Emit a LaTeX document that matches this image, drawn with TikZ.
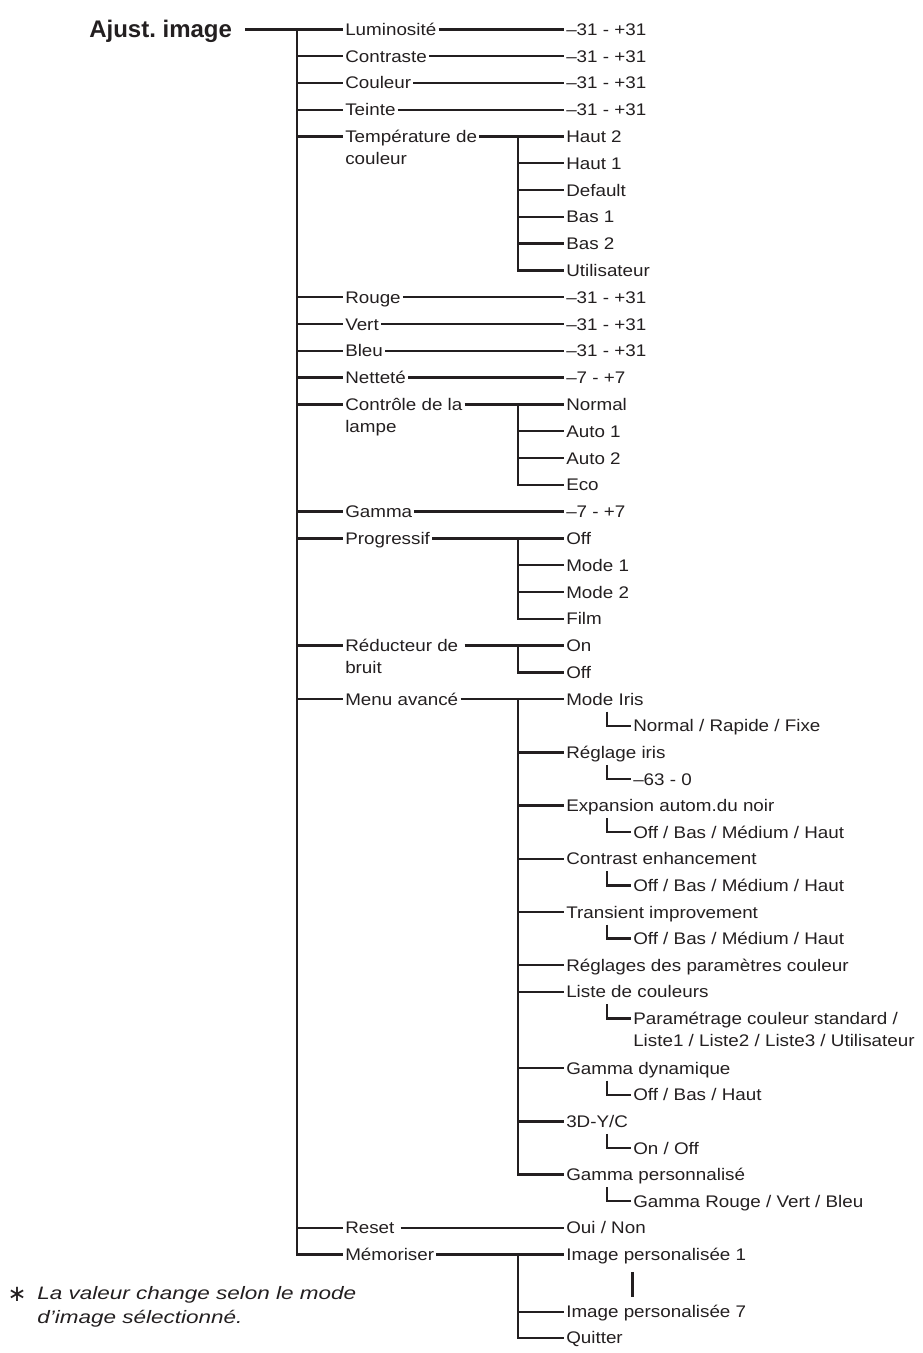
\documentclass[tikz,border=0pt]{standalone}
\usepackage{fontspec}
\setmainfont{Liberation Sans}[FakeStretch=1.12]
\newfontfamily\titlefont{Liberation Sans}
\newfontfamily\notefont{Liberation Sans}[FakeStretch=1.25]
\newfontfamily\starfont{DejaVu Sans}
\usetikzlibrary{calc}
\definecolor{ink}{HTML}{231F20}
\frenchspacing
\begin{document}
\begin{tikzpicture}[x=0.75pt,y=-0.75pt,
  lbl/.style={anchor=west, inner xsep=1.5pt, inner ysep=0pt, text height=9pt, text depth=0pt,
    font=\fontsize{12.6pt}{15pt}\selectfont, text=ink},
  conn/.style={draw=ink, line width=1.8pt},
  barline/.style={draw=ink, line width=2.4pt},
  note/.style={anchor=base west, inner sep=0pt, font=\notefont\itshape\fontsize{13.5pt}{16pt}\selectfont, text=ink}]
\useasboundingbox (0,0) rectangle (923,1353);
\coordinate (T) at (297,0);
\coordinate (S) at (518,0);
% title
\node[anchor=west, inner sep=0pt, text height=12.9pt, text depth=0pt, text=ink,
  font=\titlefont\bfseries\fontsize{18pt}{20pt}\selectfont] (title) at (89,29.3) {Ajust. image};
% level 1
\node[lbl] (lum) at (343,29.3) {Luminosité};
\node[lbl] (con) at (343,56.1) {Contraste};
\node[lbl] (cou) at (343,82.9) {Couleur};
\node[lbl] (tei) at (343,109.7) {Teinte};
\node[lbl] (tmp) at (343,136.5) {Température de};
\node[lbl] (tmpb) at (343,158.2) {couleur};
\node[lbl] (rou) at (343,297.2) {Rouge};
\node[lbl] (ver) at (343,324) {Vert};
\node[lbl] (ble) at (343,350.8) {Bleu};
\node[lbl] (net) at (343,377.6) {Netteté};
\node[lbl] (ctl) at (343,404.4) {Contrôle de la};
\node[lbl] (ctlb) at (343,426.1) {lampe};
\node[lbl] (gam) at (343,511.6) {Gamma};
\node[lbl] (pro) at (343,538.4) {Progressif};
\node[lbl] (red) at (343,645.6) {Réducteur de};
\node[lbl] (redb) at (343,667.3) {bruit};
\node[lbl] (men) at (343,699.2) {Menu avancé};
\node[lbl] (res) at (343,1227.8) {Reset};
\node[lbl] (mem) at (343,1254.4) {Mémoriser};
% level 2
\node[lbl] (lumv) at (564,29.3) {–31 - +31};
\node[lbl] (conv) at (564,56.1) {–31 - +31};
\node[lbl] (couv) at (564,82.9) {–31 - +31};
\node[lbl] (teiv) at (564,109.7) {–31 - +31};
\node[lbl] (h2) at (564,136.5) {Haut 2};
\node[lbl] (h1) at (564,163.2) {Haut 1};
\node[lbl] (def) at (564,190) {Default};
\node[lbl] (b1) at (564,216.8) {Bas 1};
\node[lbl] (b2) at (564,243.6) {Bas 2};
\node[lbl] (uti) at (564,270.4) {Utilisateur};
\node[lbl] (rouv) at (564,297.2) {–31 - +31};
\node[lbl] (verv) at (564,324) {–31 - +31};
\node[lbl] (blev) at (564,350.8) {–31 - +31};
\node[lbl] (netv) at (564,377.6) {–7 - +7};
\node[lbl] (nor) at (564,404.4) {Normal};
\node[lbl] (a1) at (564,431.2) {Auto 1};
\node[lbl] (a2) at (564,458) {Auto 2};
\node[lbl] (eco) at (564,484.8) {Eco};
\node[lbl] (gamv) at (564,511.6) {–7 - +7};
\node[lbl] (poff) at (564,538.4) {Off};
\node[lbl] (m1) at (564,565.2) {Mode 1};
\node[lbl] (m2) at (564,592) {Mode 2};
\node[lbl] (film) at (564,618.8) {Film};
\node[lbl] (on) at (564,645.6) {On};
\node[lbl] (roff) at (564,672.4) {Off};
\node[lbl] (iris) at (564,699.2) {Mode Iris};
\node[lbl] (rir) at (564,752.4) {Réglage iris};
\node[lbl] (exp) at (564,805.6) {Expansion autom.du noir};
\node[lbl] (cen) at (564,858.8) {Contrast enhancement};
\node[lbl] (tra) at (564,912) {Transient improvement};
\node[lbl] (rpc) at (564,965.2) {Réglages des paramètres couleur};
\node[lbl] (lis) at (564,991.8) {Liste de couleurs};
\node[lbl] (gdy) at (564,1068.2) {Gamma dynamique};
\node[lbl] (y3d) at (564,1121.4) {3D-Y/C};
\node[lbl] (gpe) at (564,1174.6) {Gamma personnalisé};
\node[lbl] (resv) at (564,1227.8) {Oui / Non};
\node[lbl] (im1) at (564,1254.4) {Image personalisée 1};
\node[lbl] (im7) at (564,1311.7) {Image personalisée 7};
\node[lbl] (qui) at (564,1337.7) {Quitter};
% level 3
\node[lbl] (irisv) at (631,725.8) {Normal / Rapide / Fixe};
\node[lbl] (rirv) at (631,779) {–63 - 0};
\node[lbl] (expv) at (631,832.2) {Off / Bas / Médium / Haut};
\node[lbl] (cenv) at (631,885.4) {Off / Bas / Médium / Haut};
\node[lbl] (trav) at (631,938.6) {Off / Bas / Médium / Haut};
\node[lbl] (lisv) at (631,1018.4) {Paramétrage couleur standard /};
\node[lbl] (lisw) at (631,1040.4) {Liste1 / Liste2 / Liste3 / Utilisateur};
\node[lbl] (gdyv) at (631,1094.8) {Off / Bas / Haut};
\node[lbl] (y3dv) at (631,1148) {On / Off};
\node[lbl] (gpev) at (631,1201.2) {Gamma Rouge / Vert / Bleu};
% footnote
\node[inner sep=0pt, text=ink, font=\starfont\fontsize{17pt}{18pt}\selectfont] (star) at (17,1294) {∗};
\node[note] (fn1) at (37,1299) {La valeur change selon le mode};
\node[note] (fn2) at (37,1323) {d’image sélectionné.};
% trunk
\draw[conn, shorten <=9.75pt] (title.east) -- (lum.west);
\draw[conn] (lum.west -| T) |- (mem.west);
\foreach \n in {con,cou,tei,tmp,rou,ver,ble,net,ctl,gam,pro,red,men,res}
  \draw[conn] (\n.west -| T) -- (\n.west);
% direct values
\foreach \a/\b in {lum/lumv,con/conv,cou/couv,tei/teiv,rou/rouv,ver/verv,ble/blev,net/netv,gam/gamv}
  \draw[conn] (\a.east) -- (\b.west);
\draw[conn, shorten <=3pt] (res.east) -- (resv.west);
% sub-trees
\foreach \p/\f/\l/\mid in {tmp/h2/uti/{h1,def,b1,b2}, ctl/nor/eco/{a1,a2}, pro/poff/film/{m1,m2}, men/iris/gpe/{rir,exp,cen,tra,rpc,lis,gdy,y3d}, mem/im1/qui/{im7}}{
  \draw[conn] (\p.east) -- (\f.west);
  \draw[conn] (\f.west -| S) |- (\l.west);
  \foreach \m in \mid
    \draw[conn] (\m.west -| S) -- (\m.west);
}
\draw[conn, shorten <=3pt] (red.east) -- (on.west);
\draw[conn] (on.west -| S) |- (roff.west);
% elbows
\foreach \a/\b in {iris/irisv,rir/rirv,exp/expv,cen/cenv,tra/trav,lis/lisv,gdy/gdyv,y3d/y3dv,gpe/gpev}
  \draw[conn] ($(\a.west)+(43,12.5)$) |- (\b.west);
% bar between images
\draw[barline] ($(im1.west)+(68.7,17.5)$) -- ($(im1.west)+(68.7,42.5)$);
\end{tikzpicture}
\end{document}
